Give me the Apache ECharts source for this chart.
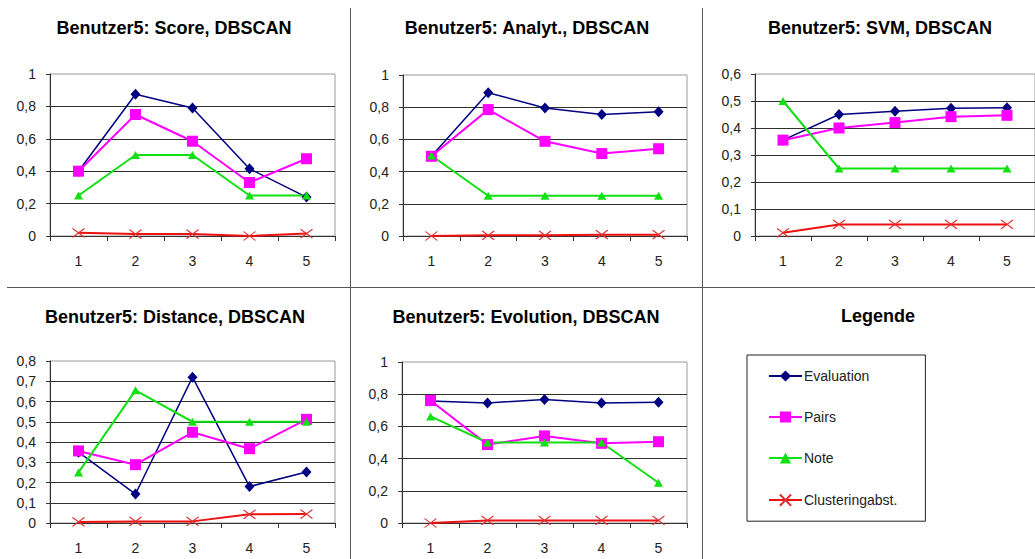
<!DOCTYPE html>
<html>
<head>
<meta charset="utf-8">
<title>Benutzer5 – DBSCAN</title>
<script src="https://cdn.jsdelivr.net/npm/echarts@6/dist/echarts.min.js"></script>
<style>
  html, body { margin: 0; padding: 0; background: #fff; }
  #chart { width: 1035px; height: 559px; }
</style>
</head>
<body>
<div id="chart"></div>
<script>
// x categories shared by all five panels
const categories = ['1', '2', '3', '4', '5'];

// series names (legend order)
const seriesNames = ['Evaluation', 'Pairs', 'Note', 'Clusteringabst.'];

// Panel titles
const panelTitles = [
  'Benutzer5: Score, DBSCAN',
  'Benutzer5: Analyt., DBSCAN',
  'Benutzer5: SVM, DBSCAN',
  'Benutzer5: Distance, DBSCAN',
  'Benutzer5: Evolution, DBSCAN'
];

// y-axis ranges per panel: [max, step]
const yMax = [1, 1, 0.6, 0.8, 1];
const yStep = [0.2, 0.2, 0.1, 0.1, 0.2];

// Score
const scoreEvaluation = [0.40, 0.875, 0.79, 0.415, 0.24];
const scorePairs      = [0.40, 0.75, 0.585, 0.33, 0.477];
const scoreNote       = [0.25, 0.50, 0.50, 0.25, 0.25];
const scoreCluster    = [0.02, 0.012, 0.012, 0.0, 0.015];

// Analyt.
const analytEvaluation = [0.495, 0.89, 0.795, 0.755, 0.772];
const analytPairs      = [0.495, 0.785, 0.588, 0.512, 0.542];
const analytNote       = [0.50, 0.25, 0.25, 0.25, 0.25];
const analytCluster    = [0.0, 0.004, 0.004, 0.008, 0.008];

// SVM
const svmEvaluation = [0.355, 0.45, 0.462, 0.473, 0.475];
const svmPairs      = [0.355, 0.40, 0.42, 0.442, 0.447];
const svmNote       = [0.50, 0.25, 0.25, 0.25, 0.25];
const svmCluster    = [0.012, 0.043, 0.043, 0.043, 0.043];

// Distance
const distEvaluation = [0.35, 0.143, 0.72, 0.18, 0.252];
const distPairs      = [0.356, 0.288, 0.448, 0.367, 0.512];
const distNote       = [0.25, 0.655, 0.50, 0.50, 0.50];
const distCluster    = [0.005, 0.008, 0.008, 0.043, 0.044];

// Evolution
const evoEvaluation = [0.757, 0.746, 0.767, 0.746, 0.75];
const evoPairs      = [0.761, 0.487, 0.541, 0.495, 0.505];
const evoNote       = [0.662, 0.50, 0.50, 0.50, 0.25];
const evoCluster    = [0.0, 0.016, 0.016, 0.016, 0.016];

const panelData = [
  [scoreEvaluation, scorePairs, scoreNote, scoreCluster],
  [analytEvaluation, analytPairs, analytNote, analytCluster],
  [svmEvaluation, svmPairs, svmNote, svmCluster],
  [distEvaluation, distPairs, distNote, distCluster],
  [evoEvaluation, evoPairs, evoNote, evoCluster]
];

const FONT = '"Liberation Sans", Arial, Helvetica, sans-serif';

// plot rectangles [left, top, width, height]
const plotRects = [
  [50, 74, 285, 162],
  [403, 75, 284, 161],
  [755, 74, 285, 162],
  [50, 361, 285, 162],
  [402, 362, 285, 161]
];
const titleCenters = [[174, 29], [527, 29], [880, 29], [175, 318], [526, 318]];

const seriesStyles = [
  { symbol: 'diamond', symbolSize: [10, 11], line: '#000080', lineWidth: 1.5,
    itemStyle: { color: '#000080' } },
  { symbol: 'rect', symbolSize: 11, line: '#ff00ff', lineWidth: 2,
    itemStyle: { color: '#ff00ff' } },
  { symbol: 'triangle', symbolSize: [9, 8], line: '#11e011', lineWidth: 2,
    itemStyle: { color: '#11e011' } },
  { symbol: 'path://M0,0L12,9M12,0L0,9', symbolSize: [12, 9], line: '#ee1111', lineWidth: 2,
    itemStyle: { color: 'none', borderColor: '#dd3030', borderWidth: 1.2 } }
];

const fmt = v => String(+(+v).toFixed(1)).replace('.', ',');

const grids = [], xAxes = [], yAxes = [], series = [], titles = [];
plotRects.forEach((r, i) => {
  grids.push({
    left: r[0], top: r[1], width: r[2], height: r[3],
    show: true, borderColor: '#9a9a9a', borderWidth: 1, backgroundColor: 'transparent'
  });
  xAxes.push({
    type: 'category', gridIndex: i, data: categories, boundaryGap: true,
    axisLine: { lineStyle: { color: '#333', width: 1 } },
    axisTick: { show: true, length: 5, interval: 0, lineStyle: { color: '#333' } },
    axisLabel: { margin: 18, fontFamily: FONT, fontSize: 14, color: '#222' },
    splitLine: { show: false }
  });
  yAxes.push({
    type: 'value', gridIndex: i, min: 0, max: yMax[i], interval: yStep[i],
    axisLine: { show: true, lineStyle: { color: '#333', width: 1 } },
    axisTick: { show: true, length: 4, lineStyle: { color: '#333' } },
    axisLabel: { margin: 14, fontFamily: FONT, fontSize: 14, color: '#222', formatter: fmt },
    splitLine: { show: true, showMaxLine: false, lineStyle: { color: '#303030', width: 1 } }
  });
  titles.push({
    text: panelTitles[i], left: titleCenters[i][0], top: titleCenters[i][1] - 10,
    textAlign: 'center', textVerticalAlign: 'top', padding: 0,
    textStyle: { fontFamily: FONT, fontSize: 18, fontWeight: 'bold', color: '#000' }
  });
  panelData[i].forEach((vals, k) => {
    const s = seriesStyles[k];
    series.push({
      type: 'line', name: seriesNames[k], xAxisIndex: i, yAxisIndex: i,
      data: vals, symbol: s.symbol, symbolSize: s.symbolSize,
      showAllSymbol: true, smooth: false,
      lineStyle: { color: s.line, width: s.lineWidth },
      itemStyle: s.itemStyle,
      emphasis: { disabled: true }
    });
  });
});

titles.push({
  text: 'Legende', left: 878, top: 307, textAlign: 'center', textVerticalAlign: 'top', padding: 0,
  textStyle: { fontFamily: FONT, fontSize: 18, fontWeight: 'bold', color: '#000' }
});

const chart = echarts.init(document.getElementById('chart'), null, { renderer: 'svg' });
chart.setOption({
  animation: false,
  backgroundColor: '#ffffff',
  title: titles,
  grid: grids,
  xAxis: xAxes,
  yAxis: yAxes,
  legend: {
    data: seriesNames, orient: 'vertical', left: 747, top: 355,
    padding: [14, 28, 13, 21], itemGap: 27, itemWidth: 33, itemHeight: 14,
    borderColor: '#222', borderWidth: 1, selectedMode: false,
    textStyle: { fontFamily: FONT, fontSize: 14, color: '#222', padding: [0, 0, 0, -3] }
  },
  graphic: [
    { type: 'line', shape: { x1: 350.5, y1: 8, x2: 350.5, y2: 559 }, style: { stroke: '#555', lineWidth: 1 }, silent: true },
    { type: 'line', shape: { x1: 702.5, y1: 8, x2: 702.5, y2: 559 }, style: { stroke: '#555', lineWidth: 1 }, silent: true },
    { type: 'line', shape: { x1: 7, y1: 287.5, x2: 1035, y2: 287.5 }, style: { stroke: '#555', lineWidth: 1 }, silent: true }
  ],
  series: series
});
</script>
</body>
</html>
